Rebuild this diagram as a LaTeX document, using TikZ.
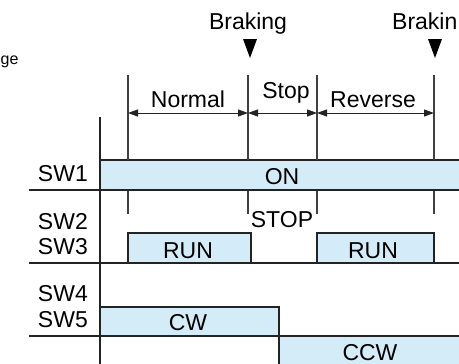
\documentclass[tikz,border=0pt]{standalone}
\usepackage{fontspec}
\setmainfont{Liberation Sans}
\usetikzlibrary{arrows.meta,calc}
\definecolor{barblue}{RGB}{212,235,248}
\definecolor{linegray}{RGB}{35,35,35}

\begin{document}
\begin{tikzpicture}[x=1pt, y=-1pt,
    txt/.style={font=\fontsize{23}{27}\selectfont, inner sep=0pt, anchor=base},
    swname/.style={txt, anchor=base east},
    bar/.style={draw=linegray, fill=barblue, line width=1.2pt},
    sepline/.style={draw=linegray, line width=1.2pt},
    markline/.style={draw=black!75, line width=1.2pt},
    span/.style={{Triangle[length=10pt,width=7pt]}-{Triangle[length=10pt,width=7pt]}, line width=1pt, draw=linegray},
    brake/.style={fill=black}
]

\useasboundingbox (0,0) rectangle (459,364);
\clip (0,0) rectangle (459,364);

% Time marks
\coordinate (t0) at (128,113);
\coordinate (t1) at (248,113);
\coordinate (t2) at (317,113);
\coordinate (t3) at (434,113);

% Signal bars
\draw[bar] (100,160) rectangle (463,190);
\draw[bar] (128,233) rectangle (251,263);
\draw[bar] (317,233) rectangle (434,263);
\draw[bar] (100,307) rectangle (279,336);
\draw[bar] (279,336) rectangle (463,367);

% Row separators and axis
\draw[sepline] (29,190) -- (463,190);
\draw[sepline] (29,263) -- (463,263);
\draw[sepline] (29,336) -- (463,336);
\draw[sepline] (100,117) -- (100,367);

% Vertical time lines
\foreach \t in {t0,t1,t2,t3} {
  \draw[markline] (\t |- 0,75) -- (\t |- 0,160);
  \draw[markline] (\t |- 0,191) -- (\t |- 0,214);
}

% Interval arrows
\draw[span] (t0) -- (t1);
\draw[span] (t1) -- (t2);
\draw[span] (t2) -- (t3);
\node[txt] (normal) at (188,107) {Normal};
\node[txt] (stop) at (286,99) {Stop};
\node[txt] (reverse) at (373,107) {Reverse};

% Braking markers
\fill[brake] (243,39) -- (257,39) -- (250,58) -- cycle;
\fill[brake] (428,39) -- (442,39) -- (435,58) -- cycle;
\node[txt] (brake1) at (248,30) {Braking};
\node[txt, anchor=base west] (brake2) at (392,30) {Brakin};
\node[font=\fontsize{16}{19}\selectfont, inner sep=0pt, anchor=base west] (cut) at (0.5,64) {ge};

% Switch names
\node[swname] (sw1) at (88,181) {SW1};
\node[swname] (sw2) at (88,229) {SW2};
\node[swname] (sw3) at (88,254) {SW3};
\node[swname] (sw4) at (88,301) {SW4};
\node[swname] (sw5) at (88,327) {SW5};

% Bar texts
\node[txt] (on) at (282,184) {ON};
\node[txt] (stopsig) at (282,227) {STOP};
\node[txt] (run1) at (188,258) {RUN};
\node[txt] (run2) at (373,258) {RUN};
\node[txt] (cw) at (188,330) {CW};
\node[txt] (ccw) at (370,360) {CCW};

\end{tikzpicture}
\end{document}
